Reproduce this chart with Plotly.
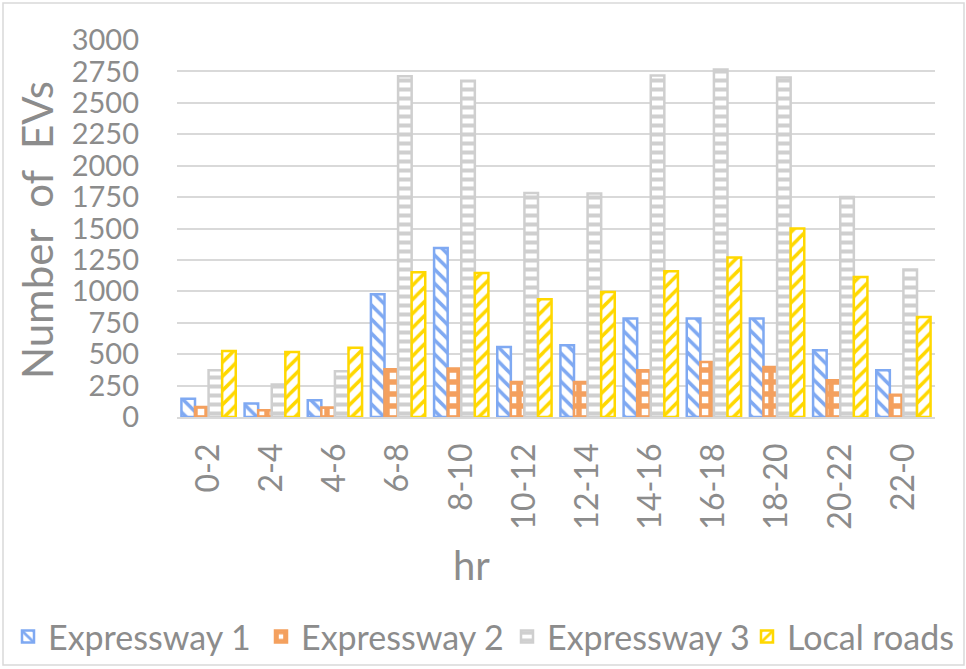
import plotly.graph_objects as go

hours = ["0-2", "2-4", "4-6", "6-8", "8-10", "10-12", "12-14", "14-16", "16-18", "18-20", "20-22", "22-0"]
expressway1 = [146, 107, 133, 977, 1345, 557, 571, 783, 783, 783, 531, 372]
expressway2 = [80, 53, 75, 380, 385, 279, 279, 372, 438, 398, 292, 178]
expressway3 = [372, 258, 364, 2712, 2675, 1783, 1778, 2718, 2766, 2702, 1751, 1173]
local_roads = [525, 517, 552, 1152, 1146, 937, 995, 1160, 1269, 1500, 1115, 796]
y_ticks = list(range(0, 3001, 250))

series = [
    ("Expressway 1", expressway1, "#7FA9F2", "\\", 0.35, 10),
    ("Expressway 2", expressway2, "#F4A05E", "+", 0.7, 12),
    ("Expressway 3", expressway3, "#CFCFCF", "-", 0.45, 9),
    ("Local roads", local_roads, "#FFD800", "/", 0.35, 10),
]
legend_left_px = [8, 261, 507, 747]

FONT = "Lato"
GREY = "#8C8C8C"
W, H = 966, 669
L, R, T, B = 177, 31, 40, 252
PW, PH = W - L - R, H - T - B


def px_x(x):
    return (x - L) / PW


def px_y(y):
    return (H - B - y) / PH


fig = go.Figure()
legend_layouts = {}
for i, (name, vals, col, shape, sol, sz) in enumerate(series):
    lname = "legend" if i == 0 else f"legend{i + 1}"
    fig.add_trace(go.Bar(
        x=hours, y=vals, name=name, legend=lname, showlegend=True,
        marker=dict(
            color="white",
            line=dict(color=col, width=2.5),
            pattern=dict(shape=shape, fgcolor=col, bgcolor="white", size=sz, solidity=sol, fillmode="replace"),
        ),
    ))
    legend_layouts[lname] = dict(
        orientation="h", x=px_x(legend_left_px[i]), xanchor="left", y=px_y(608), yanchor="top",
        font=dict(size=34, color=GREY, family=FONT), itemwidth=30, bgcolor="rgba(0,0,0,0)",
    )

fig.update_layout(
    width=W, height=H, showlegend=True,
    barmode="group", bargap=0.14, bargroupgap=0.0,
    plot_bgcolor="white", paper_bgcolor="white",
    margin=dict(l=L, r=R, t=T, b=B, autoexpand=False),
    font=dict(family=FONT, color=GREY),
    xaxis=dict(
        type="category",
        tickangle=-90, tickfont=dict(size=32, color=GREY, family=FONT),
        showline=True, linecolor="#D9D9D9", linewidth=1.5, ticks="",
        ticklabelstandoff=12,
        automargin=False,
    ),
    yaxis=dict(
        range=[0, 3000], tickvals=y_ticks,
        tickfont=dict(size=29, color=GREY, family=FONT),
        showgrid=True, gridcolor="#D9D9D9", gridwidth=1.5, zeroline=False,
        ticklabelstandoff=37,
        automargin=False,
    ),
    annotations=[
        dict(text="Number  of  EVs", xref="paper", yref="paper", x=px_x(37), y=px_y(230),
             textangle=-90, showarrow=False, xanchor="center", yanchor="middle",
             font=dict(size=42, color=GREY, family=FONT)),
        dict(text="hr", xref="paper", yref="paper", x=px_x(471), y=px_y(565),
             showarrow=False, xanchor="center", yanchor="middle",
             font=dict(size=40, color=GREY, family=FONT)),
    ],
    shapes=[dict(type="rect", xref="paper", yref="paper",
                 x0=px_x(3), x1=px_x(964), y0=px_y(665), y1=px_y(3),
                 line=dict(color="#D9D9D9", width=1.5), fillcolor="rgba(0,0,0,0)", layer="below")],
)
fig.update_layout(**legend_layouts)

fig.write_html("out.html", config={"displayModeBar": False},
               post_script="document.body.style.margin='0';")
